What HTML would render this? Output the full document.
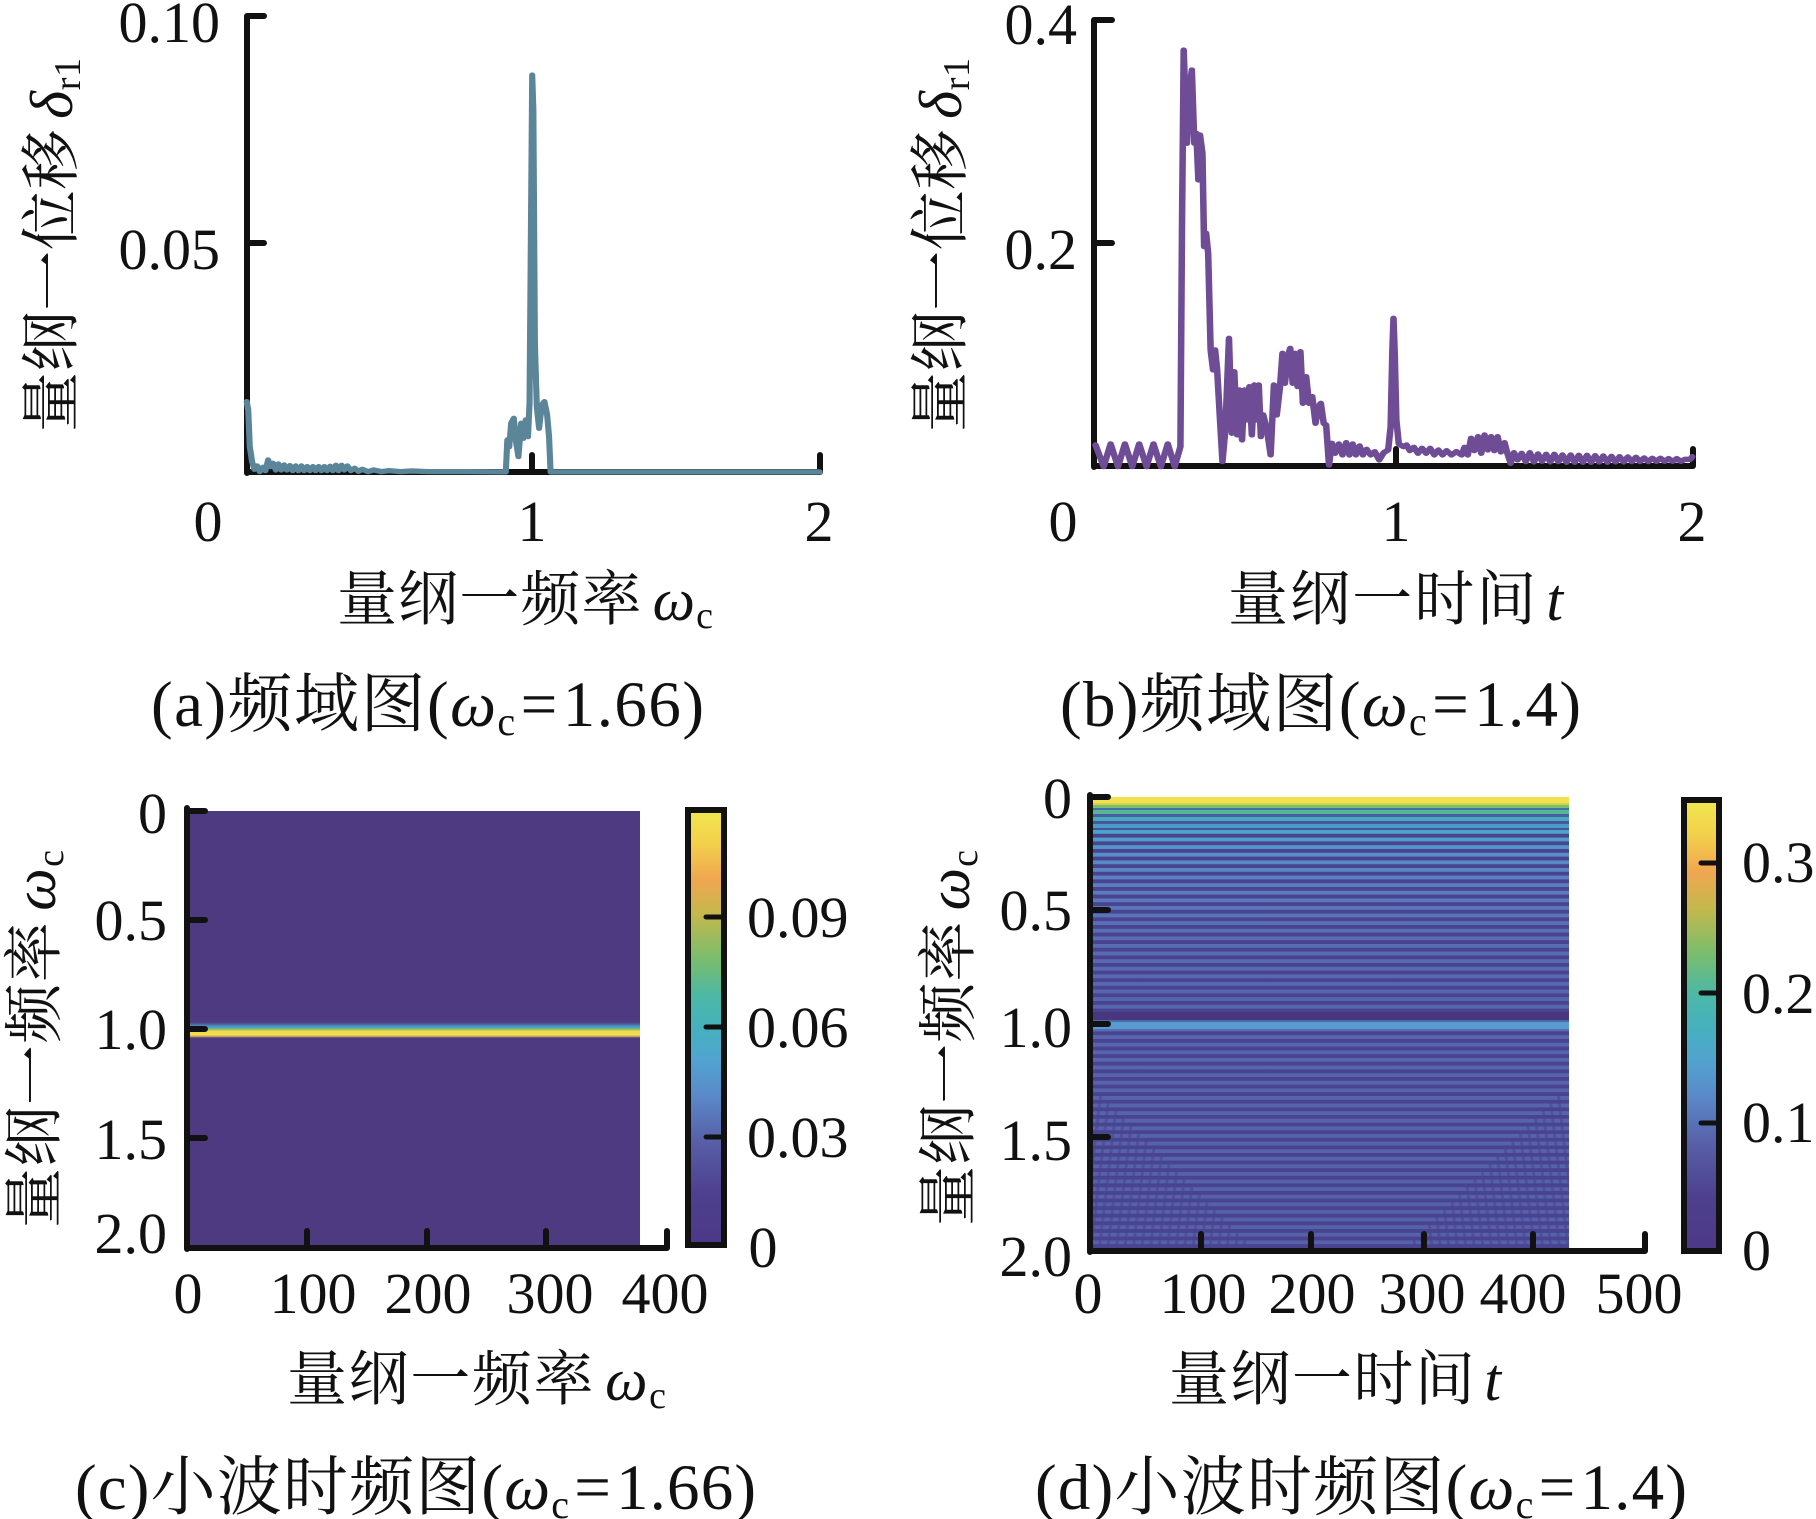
<!DOCTYPE html>
<html><head><meta charset="utf-8"><style>
html,body{margin:0;padding:0;background:#fff}
svg{display:block}
text{font-family:"Liberation Serif","Noto Serif CJK SC",serif;fill:#111}
.t{font-size:58px}
.l{font-size:60px}
.cap{font-size:65px}
</style></head><body>
<svg width="1816" height="1519" viewBox="0 0 1816 1519" xmlns="http://www.w3.org/2000/svg" font-family="Liberation Serif, Noto Serif CJK SC, serif">
<defs>
<linearGradient id="cbar" x1="0" y1="1" x2="0" y2="0">
<stop offset="0" stop-color="#4b3986"/>
<stop offset="0.12" stop-color="#4e408e"/>
<stop offset="0.24" stop-color="#5860a8"/>
<stop offset="0.34" stop-color="#5a88c8"/>
<stop offset="0.42" stop-color="#52a2d0"/>
<stop offset="0.49" stop-color="#46b0c0"/>
<stop offset="0.57" stop-color="#4cb8a6"/>
<stop offset="0.66" stop-color="#7abd6c"/>
<stop offset="0.76" stop-color="#c4b84c"/>
<stop offset="0.84" stop-color="#f0a650"/>
<stop offset="0.92" stop-color="#f3cf4c"/>
<stop offset="1" stop-color="#f0e84f"/>
</linearGradient>
<linearGradient id="yline" gradientUnits="userSpaceOnUse" x1="0" y1="1022" x2="0" y2="1038">
<stop offset="0" stop-color="#4d3a80"/>
<stop offset="0.12" stop-color="#4f5a9e"/>
<stop offset="0.25" stop-color="#4e8ec2"/>
<stop offset="0.38" stop-color="#48b2b0"/>
<stop offset="0.48" stop-color="#a0c25a"/>
<stop offset="0.56" stop-color="#f0d84a"/>
<stop offset="0.8" stop-color="#f2e050"/>
<stop offset="0.9" stop-color="#c8a860"/>
<stop offset="1" stop-color="#4d3a80"/>
</linearGradient>
<linearGradient id="dlight" gradientUnits="userSpaceOnUse" x1="0" y1="797" x2="0" y2="1251">
<stop offset="0.073" stop-color="#4aa6c8"/>
<stop offset="0.117" stop-color="#5592c8"/>
<stop offset="0.183" stop-color="#5a80c2"/>
<stop offset="0.293" stop-color="#586eb6"/>
<stop offset="0.447" stop-color="#5666ae"/>
<stop offset="1" stop-color="#5561a8"/>
</linearGradient>
<pattern id="dstripe" x="0" y="830" width="20" height="7.6" patternUnits="userSpaceOnUse">
<rect x="0" y="3.8" width="20" height="3.8" fill="#4a4490"/>
</pattern>
<clipPath id="dclip"><rect x="1090" y="797" width="479" height="454"/></clipPath>
</defs>

<!-- ============ Panel (a) ============ -->
<g stroke="#111" stroke-width="6" stroke-linecap="round" fill="none">
<path d="M247,16 L247,473 M247,16 L264,16 M247,243 L264,243 M247,472 L820,472 M532,472 L532,455 M820,472 L820,455"/>
</g>
<path transform="translate(236,10) scale(0.3827,0.3333)" fill="none" stroke="#5b8598" stroke-width="16" stroke-linejoin="round" stroke-linecap="round"
d="M28,1175 L32,1200 L36,1310 L42,1355 L48,1378 L55,1368 L62,1385 L70,1372 L77,1382 L84,1350 L90,1370 L97,1360 L104,1380 L111,1362 L118,1380 L126,1365 L133,1380 L141,1367 L148,1382 L156,1368 L163,1382 L171,1368 L178,1382 L186,1370 L193,1382 L201,1370 L208,1382 L216,1370 L223,1382 L231,1370 L238,1382 L246,1369 L253,1382 L261,1366 L268,1382 L276,1366 L283,1380 L291,1368 L300,1382 L310,1375 L320,1384 L330,1378 L345,1385 L360,1380 L380,1385 L400,1382 L430,1385 L460,1383 L500,1385 L600,1385 L705,1386 L709,1290 L714,1310 L719,1240 L726,1225 L731,1290 L738,1340 L745,1240 L751,1285 L757,1230 L763,1280 L767,1180 L770,760 L774,195 L777,300 L781,1000 L786,1190 L792,1255 L799,1185 L806,1175 L813,1215 L818,1280 L822,1386 L1525,1386"/>
<text class="t" x="220" y="42" text-anchor="end">0.10</text>
<text class="t" x="220" y="269" text-anchor="end">0.05</text>
<text class="t" x="208" y="541" text-anchor="middle">0</text>
<text class="t" x="532" y="541" text-anchor="middle">1</text>
<text class="t" x="819" y="541" text-anchor="middle">2</text>
<text class="l" x="337" y="620" textLength="376" lengthAdjust="spacing">量纲一频率<tspan dx="10" font-style="italic">ω</tspan><tspan font-size="38" dy="8">c</tspan></text>
<text class="cap" x="151" y="726" textLength="553" lengthAdjust="spacing">(a)频域图(<tspan font-style="italic">ω</tspan><tspan font-size="40" dy="9">c</tspan><tspan dy="-9" dx="4">=</tspan><tspan dx="4">1.66)</tspan></text>
<text class="l" transform="translate(72,432) rotate(-90)" x="0" y="0" textLength="374" lengthAdjust="spacing">量纲一位移<tspan dx="10" font-style="italic">δ</tspan><tspan font-size="38" dy="8">r1</tspan></text>

<!-- ============ Panel (b) ============ -->
<g stroke="#111" stroke-width="6" stroke-linecap="round" fill="none">
<path d="M1094,20 L1094,467 M1094,20 L1112,20 M1094,243 L1112,243 M1094,466 L1693,466 M1396,466 L1396,449 M1693,466 L1693,449"/>
</g>
<path transform="translate(1080,20) scale(0.4082,0.3333)" fill="none" stroke="#6f4c96" stroke-width="16" stroke-linejoin="round" stroke-linecap="round"
d="M38,1275 L58,1340 L75,1272 L93,1340 L110,1272 L128,1340 L145,1272 L163,1340 L180,1272 L198,1340 L215,1272 L232,1340 L246,1280 L250,600 L254,90 L262,370 L268,210 L274,150 L280,370 L285,340 L290,480 L294,345 L300,400 L304,680 L309,640 L314,700 L320,990 L326,1050 L331,990 L336,1050 L343,1200 L349,1325 L356,1230 L365,955 L372,1240 L378,1055 L385,1245 L391,1110 L397,1260 L403,1110 L409,1200 L415,1100 L421,1245 L427,1095 L433,1200 L438,1095 L443,1250 L449,1185 L458,1230 L467,1305 L475,1095 L482,1185 L490,1100 L496,1000 L502,1090 L509,1010 L515,985 L521,1090 L527,1000 L533,1100 L540,995 L546,1150 L554,1070 L561,1150 L569,1130 L577,1210 L584,1160 L590,1150 L597,1210 L603,1215 L610,1335 L617,1270 L625,1300 L634,1272 L643,1305 L652,1268 L660,1305 L668,1272 L676,1305 L685,1278 L693,1305 L702,1288 L712,1305 L722,1295 L733,1320 L744,1298 L755,1290 L761,1220 L765,1000 L768,895 L771,1000 L775,1200 L781,1272 L792,1280 L800,1275 L808,1292 L818,1282 L828,1300 L838,1285 L848,1300 L858,1285 L868,1305 L878,1290 L888,1305 L898,1292 L910,1305 L922,1295 L935,1305 L942,1282 L950,1305 L958,1255 L966,1292 L975,1250 L983,1300 L991,1245 L999,1290 L1007,1250 L1015,1292 L1023,1250 L1031,1296 L1040,1268 L1047,1300 L1055,1330 L1063,1298 L1072,1320 L1082,1300 L1092,1325 L1102,1298 L1112,1326 L1122,1302 L1132,1324 L1142,1303 L1152,1326 L1162,1303 L1172,1325 L1182,1305 L1192,1327 L1202,1305 L1212,1327 L1222,1306 L1232,1327 L1242,1306 L1252,1327 L1262,1307 L1272,1326 L1282,1308 L1292,1327 L1302,1309 L1312,1326 L1322,1310 L1332,1326 L1342,1311 L1352,1325 L1362,1312 L1372,1325 L1382,1314 L1392,1325 L1402,1315 L1412,1324 L1422,1315 L1432,1324 L1442,1316 L1452,1324 L1462,1316 L1472,1324 L1482,1318 L1495,1318 L1500,1310"/>
<text class="t" x="1077" y="44" text-anchor="end">0.4</text>
<text class="t" x="1077" y="269" text-anchor="end">0.2</text>
<text class="t" x="1063" y="541" text-anchor="middle">0</text>
<text class="t" x="1396" y="541" text-anchor="middle">1</text>
<text class="t" x="1692" y="541" text-anchor="middle">2</text>
<text class="l" x="1228" y="620" textLength="335" lengthAdjust="spacing">量纲一时间<tspan dx="8" font-style="italic">t</tspan></text>
<text class="cap" x="1060" y="726" textLength="521" lengthAdjust="spacing">(b)频域图(<tspan font-style="italic">ω</tspan><tspan font-size="40" dy="9">c</tspan><tspan dy="-9" dx="4">=</tspan><tspan dx="4">1.4)</tspan></text>
<text class="l" transform="translate(961,432) rotate(-90)" x="0" y="0" textLength="374" lengthAdjust="spacing">量纲一位移<tspan dx="10" font-style="italic">δ</tspan><tspan font-size="38" dy="8">r1</tspan></text>

<!-- ============ Panel (c) ============ -->
<rect x="188" y="811" width="452" height="436" fill="#4d3a80"/>
<rect x="188" y="1022" width="452" height="16" fill="url(#yline)"/>
<g stroke="#111" stroke-width="6" stroke-linecap="round" fill="none">
<path d="M187,808 L187,1249 M187,811 L205,811 M187,920 L205,920 M187,1029 L205,1029 M187,1138 L205,1138 M187,1248 L667,1248 M307,1248 L307,1231 M427,1248 L427,1231 M546,1248 L546,1231 M667,1248 L667,1231"/>
</g>
<rect x="688" y="810" width="36" height="435" fill="url(#cbar)" stroke="#111" stroke-width="6"/>
<g stroke="#111" stroke-width="5" stroke-linecap="round">
<path d="M721,917 L706,917 M721,1027 L706,1027 M721,1137 L706,1137"/>
</g>
<text class="t" x="167" y="833" text-anchor="end">0</text>
<text class="t" x="167" y="940" text-anchor="end">0.5</text>
<text class="t" x="167" y="1049" text-anchor="end">1.0</text>
<text class="t" x="167" y="1159" text-anchor="end">1.5</text>
<text class="t" x="167" y="1253" text-anchor="end">2.0</text>
<text class="t" x="188" y="1313" text-anchor="middle">0</text>
<text class="t" x="313" y="1313" text-anchor="middle">100</text>
<text class="t" x="428" y="1313" text-anchor="middle">200</text>
<text class="t" x="550" y="1313" text-anchor="middle">300</text>
<text class="t" x="665" y="1313" text-anchor="middle">400</text>
<text class="t" x="747" y="937">0.09</text>
<text class="t" x="747" y="1047">0.06</text>
<text class="t" x="747" y="1157">0.03</text>
<text class="t" x="763" y="1267" text-anchor="middle">0</text>
<text class="l" x="287" y="1400" textLength="379" lengthAdjust="spacing">量纲一频率<tspan dx="10" font-style="italic">ω</tspan><tspan font-size="38" dy="8">c</tspan></text>
<text class="cap" x="75" y="1509" textLength="681" lengthAdjust="spacing">(c)小波时频图(<tspan font-style="italic">ω</tspan><tspan font-size="40" dy="9">c</tspan><tspan dy="-9" dx="4">=</tspan><tspan dx="4">1.66)</tspan></text>
<text class="l" transform="translate(55,1228) rotate(-90)" x="0" y="0" textLength="378" lengthAdjust="spacing">量纲一频率<tspan dx="10" font-style="italic">ω</tspan><tspan font-size="38" dy="8">c</tspan></text>

<!-- ============ Panel (d) ============ -->
<g clip-path="url(#dclip)">
<rect x="1090" y="797" width="479" height="454" fill="url(#dlight)"/>
<rect x="1090" y="830" width="479" height="421" fill="url(#dstripe)"/>
<rect x="1090" y="797" width="479" height="6" fill="#efe24c"/>
<rect x="1090" y="803" width="479" height="2" fill="#d8cf52"/>
<rect x="1090" y="805" width="479" height="3" fill="#7cc06a"/>
<rect x="1090" y="808" width="479" height="2" fill="#3e6fb0"/>
<rect x="1090" y="810" width="479" height="4" fill="#56b88c"/>
<rect x="1090" y="814" width="479" height="3" fill="#4a5ca8"/>
<rect x="1090" y="817" width="479" height="4" fill="#46aab8"/>
<rect x="1090" y="821" width="479" height="3" fill="#4a55a0"/>
<rect x="1090" y="824" width="479" height="4" fill="#4a9cc8"/>
<rect x="1090" y="828" width="479" height="2" fill="#4a509c"/>
<rect x="1090" y="1012" width="479" height="8" fill="#48377f"/>
<rect x="1090" y="1020" width="479" height="2" fill="#4f6aac"/>
<rect x="1090" y="1022" width="479" height="7" fill="#5a9cd2"/>
<rect x="1090" y="1029" width="479" height="2" fill="#5070b0"/>
<g stroke="#4a4490" stroke-width="3" fill="none" opacity="0.55">
<path d="M1082,1251 L1100.6,1095.6 M1558.4,1095.6 L1577,1251
M1090.5,1251 L1108.2,1103.2 M1550.8,1103.2 L1568.5,1251
M1099,1251 L1115.8,1110.8 M1543.2,1110.8 L1560,1251
M1107.5,1251 L1123.4,1118.4 M1535.6,1118.4 L1551.5,1251
M1116,1251 L1131,1126 M1528,1126 L1543,1251
M1124.5,1251 L1138.6,1133.6 M1520.4,1133.6 L1534.5,1251
M1133,1251 L1146.2,1141.2 M1512.8,1141.2 L1526,1251
M1141.5,1251 L1153.8,1148.8 M1505.2,1148.8 L1517.5,1251
M1150,1251 L1161.4,1156.4 M1497.6,1156.4 L1509,1251
M1158.6,1251 L1169,1164 M1490,1164 L1500.4,1251
M1167.1,1251 L1176.6,1171.6 M1482.4,1171.6 L1491.9,1251
M1175.6,1251 L1184.2,1179.2 M1474.8,1179.2 L1483.4,1251
M1184.1,1251 L1191.8,1186.8 M1467.2,1186.8 L1474.9,1251
M1192.6,1251 L1199.4,1194.4 M1459.6,1194.4 L1466.4,1251
M1201.1,1251 L1207,1202 M1452,1202 L1457.9,1251
M1209.6,1251 L1214.6,1209.6 M1444.4,1209.6 L1449.4,1251
M1218.2,1251 L1222.2,1217.2 M1436.8,1217.2 L1440.8,1251
M1226.7,1251 L1229.8,1224.8 M1429.2,1224.8 L1432.3,1251
M1235.2,1251 L1237.4,1232.4 M1421.6,1232.4 L1423.8,1251
M1243.7,1251 L1245,1240 M1414,1240 L1415.3,1251"/>
</g>
</g>
<g stroke="#111" stroke-width="6" stroke-linecap="round" fill="none">
<path d="M1090,795 L1090,1252 M1090,797 L1108,797 M1090,910 L1108,910 M1090,1024 L1108,1024 M1090,1137 L1108,1137 M1090,1251 L1645,1251 M1201,1251 L1201,1234 M1311,1251 L1311,1234 M1424,1251 L1424,1234 M1533,1251 L1533,1234 M1645,1251 L1645,1234"/>
</g>
<rect x="1684" y="800" width="35" height="451" fill="url(#cbar)" stroke="#111" stroke-width="6"/>
<g stroke="#111" stroke-width="5" stroke-linecap="round">
<path d="M1716,863 L1701,863 M1716,993 L1701,993 M1716,1123 L1701,1123"/>
</g>
<text class="t" x="1072" y="818" text-anchor="end">0</text>
<text class="t" x="1072" y="930" text-anchor="end">0.5</text>
<text class="t" x="1072" y="1047" text-anchor="end">1.0</text>
<text class="t" x="1072" y="1160" text-anchor="end">1.5</text>
<text class="t" x="1072" y="1276" text-anchor="end">2.0</text>
<text class="t" x="1088" y="1313" text-anchor="middle">0</text>
<text class="t" x="1203" y="1313" text-anchor="middle">100</text>
<text class="t" x="1312" y="1313" text-anchor="middle">200</text>
<text class="t" x="1422" y="1313" text-anchor="middle">300</text>
<text class="t" x="1523" y="1313" text-anchor="middle">400</text>
<text class="t" x="1639" y="1313" text-anchor="middle">500</text>
<text class="t" x="1742" y="882">0.3</text>
<text class="t" x="1742" y="1013">0.2</text>
<text class="t" x="1742" y="1142">0.1</text>
<text class="t" x="1742" y="1270">0</text>
<text class="l" x="1169" y="1400" textLength="332" lengthAdjust="spacing">量纲一时间<tspan dx="8" font-style="italic">t</tspan></text>
<text class="cap" x="1035" y="1509" textLength="652" lengthAdjust="spacing">(d)小波时频图(<tspan font-style="italic">ω</tspan><tspan font-size="40" dy="9">c</tspan><tspan dy="-9" dx="4">=</tspan><tspan dx="4">1.4)</tspan></text>
<text class="l" transform="translate(969,1226) rotate(-90)" x="0" y="0" textLength="376" lengthAdjust="spacing">量纲一频率<tspan dx="10" font-style="italic">ω</tspan><tspan font-size="38" dy="8">c</tspan></text>
</svg>
</body></html>
